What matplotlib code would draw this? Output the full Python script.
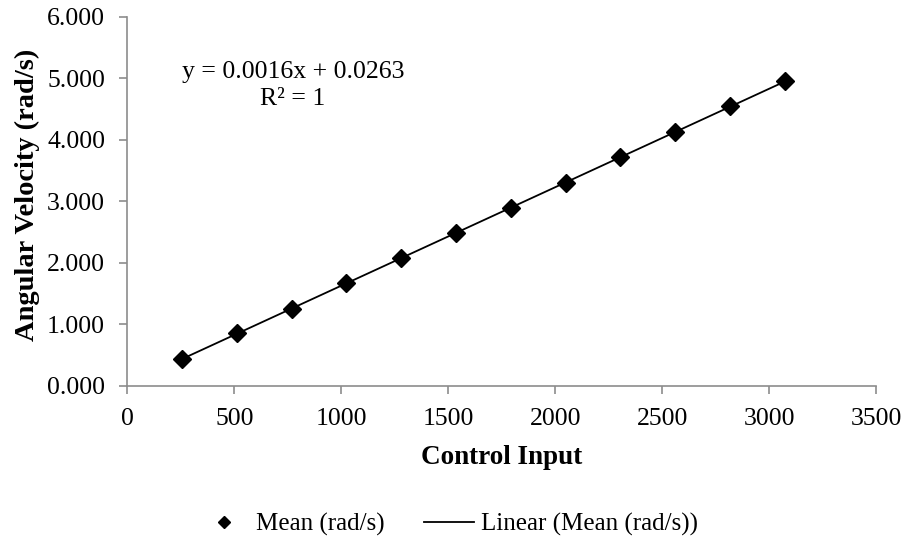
import numpy as np
import matplotlib.pyplot as plt

plt.rcParams['font.family'] = ['Liberation Serif', 'DejaVu Serif']

# Control input settings and measured mean angular velocity
control_input = [256, 512, 768, 1024, 1280, 1536, 1792, 2048, 2304, 2560, 2816, 3072]
mean_velocity = [0.44, 0.85, 1.25, 1.67, 2.07, 2.48, 2.89, 3.30, 3.72, 4.12, 4.54, 4.95]
x_ticks = [0, 500, 1000, 1500, 2000, 2500, 3000, 3500]
y_ticks = [0, 1, 2, 3, 4, 5, 6]

x = np.array(control_input, dtype=float)
y = np.array(mean_velocity)

# Linear trendline over the measured range
slope, intercept = np.polyfit(x, y, 1)
xfit = np.array([x.min(), x.max()])
yfit = slope * xfit + intercept

fs = 18.5

fig = plt.figure(figsize=(9.08, 5.4), dpi=100)
ax = fig.add_axes([0.1402, 0.2857, 0.8249, 0.6834])

ax.plot(x, y, 'D', color='black', markersize=9, label='Mean (rad/s)', zorder=3)
ax.plot(xfit, yfit, '-', color='black', linewidth=1.3, label='Linear (Mean (rad/s))', zorder=2)

ax.set_xlim(0, 3500)
ax.set_ylim(0, 6)
ax.set_xticks(x_ticks)
ax.set_yticks(y_ticks)
ax.set_yticklabels(['%.3f' % v for v in y_ticks])

for s in ['top', 'right']:
    ax.spines[s].set_visible(False)
for s in ['left', 'bottom']:
    ax.spines[s].set_color('#8c8c8c')
    ax.spines[s].set_linewidth(1.2)
ax.tick_params(axis='both', colors='#8c8c8c', labelcolor='black', labelsize=fs,
               length=6, width=1.2, direction='out')
ax.tick_params(axis='x', pad=10)
ax.tick_params(axis='y', pad=10)

ax.set_xlabel('Control Input', fontsize=19.5, fontweight='bold', labelpad=11)
ax.set_ylabel('Angular Velocity (rad/s)', fontsize=20.5, fontweight='bold', labelpad=5)
ax.yaxis.label.set_y(0.517)

ax.text(774, 5.10, 'y = 0.0016x + 0.0263', fontsize=fs, ha='center', va='center')
ax.text(774, 4.66, 'R² = 1', fontsize=fs, ha='center', va='center')

fig.legend(loc='center', bbox_to_anchor=(0.494, 0.028), ncol=2, frameon=False,
           fontsize=18, handlelength=2.0, columnspacing=1.6, handletextpad=0.25,
           markerscale=0.7)

fig.savefig('out.png', dpi=100)
